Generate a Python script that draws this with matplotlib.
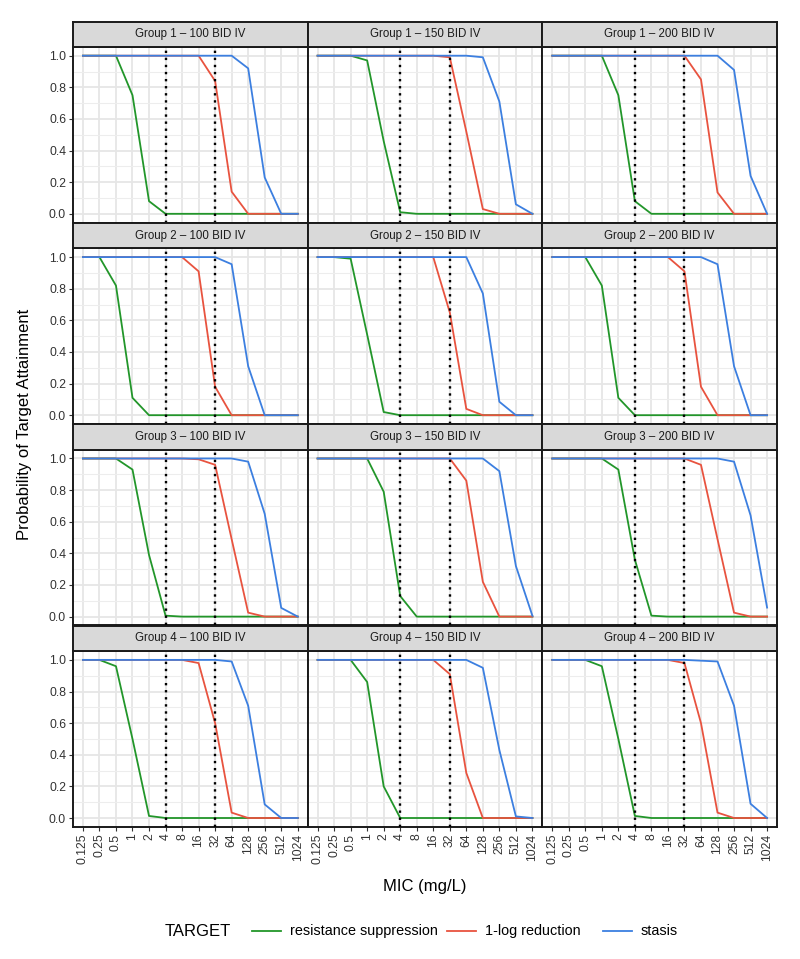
import matplotlib
matplotlib.use("Agg")
import matplotlib.pyplot as plt
from matplotlib.lines import Line2D
import numpy as np

plt.rcParams['font.family'] = ['Liberation Sans', 'DejaVu Sans']

mic_labels = ["0.125", "0.25", "0.5", "1", "2", "4", "8", "16", "32", "64",
              "128", "256", "512", "1024"]
groups = ["Group 1", "Group 2", "Group 3", "Group 4"]
doses = ["100 BID IV", "150 BID IV", "200 BID IV"]
targets = ["resistance suppression", "1-log reduction", "stasis"]
target_colors = ["#22962A", "#E8533F", "#3C7FE0"]
breakpoints = ["4", "32"]

# resistance suppression
g1_100_rs = [1, 1, 1, 0.75, 0.08, 0, 0, 0, 0, 0, 0, 0, 0, 0]
g1_150_rs = [1, 1, 1, 0.97, 0.46, 0.01, 0, 0, 0, 0, 0, 0, 0, 0]
g1_200_rs = [1, 1, 1, 1, 0.75, 0.08, 0, 0, 0, 0, 0, 0, 0, 0]
g2_100_rs = [1, 1, 0.82, 0.11, 0, 0, 0, 0, 0, 0, 0, 0, 0, 0]
g2_150_rs = [1, 1, 0.99, 0.51, 0.02, 0, 0, 0, 0, 0, 0, 0, 0, 0]
g2_200_rs = [1, 1, 1, 0.82, 0.11, 0, 0, 0, 0, 0, 0, 0, 0, 0]
g3_100_rs = [1, 1, 1, 0.93, 0.39, 0.006, 0, 0, 0, 0, 0, 0, 0, 0]
g3_150_rs = [1, 1, 1, 1, 0.79, 0.13, 0, 0, 0, 0, 0, 0, 0, 0]
g3_200_rs = [1, 1, 1, 1, 0.93, 0.36, 0.006, 0, 0, 0, 0, 0, 0, 0]
g4_100_rs = [1, 1, 0.96, 0.50, 0.013, 0, 0, 0, 0, 0, 0, 0, 0, 0]
g4_150_rs = [1, 1, 1, 0.86, 0.20, 0, 0, 0, 0, 0, 0, 0, 0, 0]
g4_200_rs = [1, 1, 1, 0.96, 0.50, 0.013, 0, 0, 0, 0, 0, 0, 0, 0]

# 1-log reduction
g1_100_lr = [1, 1, 1, 1, 1, 1, 1, 1, 0.84, 0.14, 0, 0, 0, 0]
g1_150_lr = [1, 1, 1, 1, 1, 1, 1, 1, 0.99, 0.52, 0.03, 0, 0, 0]
g1_200_lr = [1, 1, 1, 1, 1, 1, 1, 1, 1, 0.85, 0.135, 0, 0, 0]
g2_100_lr = [1, 1, 1, 1, 1, 1, 1, 0.91, 0.18, 0, 0, 0, 0, 0]
g2_150_lr = [1, 1, 1, 1, 1, 1, 1, 1, 0.65, 0.04, 0, 0, 0, 0]
g2_200_lr = [1, 1, 1, 1, 1, 1, 1, 1, 0.91, 0.18, 0, 0, 0, 0]
g3_100_lr = [1, 1, 1, 1, 1, 1, 1, 0.995, 0.96, 0.49, 0.025, 0, 0, 0]
g3_150_lr = [1, 1, 1, 1, 1, 1, 1, 1, 1, 0.86, 0.22, 0, 0, 0]
g3_200_lr = [1, 1, 1, 1, 1, 1, 1, 1, 1, 0.96, 0.49, 0.025, 0, 0]
g4_100_lr = [1, 1, 1, 1, 1, 1, 1, 0.98, 0.60, 0.034, 0, 0, 0, 0]
g4_150_lr = [1, 1, 1, 1, 1, 1, 1, 1, 0.91, 0.285, 0, 0, 0, 0]
g4_200_lr = [1, 1, 1, 1, 1, 1, 1, 1, 0.98, 0.60, 0.034, 0, 0, 0]

# stasis
g1_100_st = [1, 1, 1, 1, 1, 1, 1, 1, 1, 1, 0.92, 0.23, 0, 0]
g1_150_st = [1, 1, 1, 1, 1, 1, 1, 1, 1, 1, 0.99, 0.71, 0.06, 0]
g1_200_st = [1, 1, 1, 1, 1, 1, 1, 1, 1, 1, 1, 0.91, 0.24, 0]
g2_100_st = [1, 1, 1, 1, 1, 1, 1, 1, 1, 0.955, 0.31, 0, 0, 0]
g2_150_st = [1, 1, 1, 1, 1, 1, 1, 1, 1, 1, 0.77, 0.085, 0, 0]
g2_200_st = [1, 1, 1, 1, 1, 1, 1, 1, 1, 1, 0.955, 0.31, 0, 0]
g3_100_st = [1, 1, 1, 1, 1, 1, 1, 1, 1, 1, 0.98, 0.65, 0.055, 0]
g3_150_st = [1, 1, 1, 1, 1, 1, 1, 1, 1, 1, 1, 0.92, 0.32, 0.005]
g3_200_st = [1, 1, 1, 1, 1, 1, 1, 1, 1, 1, 1, 0.98, 0.64, 0.057]
g4_100_st = [1, 1, 1, 1, 1, 1, 1, 1, 1, 0.99, 0.71, 0.086, 0, 0]
g4_150_st = [1, 1, 1, 1, 1, 1, 1, 1, 1, 1, 0.95, 0.43, 0.01, 0]
g4_200_st = [1, 1, 1, 1, 1, 1, 1, 1, 1, 0.995, 0.99, 0.71, 0.09, 0]

panel_data = [
    [(g1_100_rs, g1_100_lr, g1_100_st), (g1_150_rs, g1_150_lr, g1_150_st), (g1_200_rs, g1_200_lr, g1_200_st)],
    [(g2_100_rs, g2_100_lr, g2_100_st), (g2_150_rs, g2_150_lr, g2_150_st), (g2_200_rs, g2_200_lr, g2_200_st)],
    [(g3_100_rs, g3_100_lr, g3_100_st), (g3_150_rs, g3_150_lr, g3_150_st), (g3_200_rs, g3_200_lr, g3_200_st)],
    [(g4_100_rs, g4_100_lr, g4_100_st), (g4_150_rs, g4_150_lr, g4_150_st), (g4_200_rs, g4_200_lr, g4_200_st)],
]

W, H = 800, 959
fig = plt.figure(figsize=(W / 100, H / 100), dpi=100)


def rect(x0, y0, w, h):
    return [x0 / W, 1 - (y0 + h) / H, w / W, h / H]


left, right = 73, 777
col_w = (right - left) / 3
panel_top0 = 47
row_period = 201.4
panel_h = 175.5
strip_h = 25.5

x = np.arange(len(mic_labels))
bp_idx = [mic_labels.index(b) for b in breakpoints]

for r in range(4):
    for c in range(3):
        x0 = left + c * col_w
        ptop = panel_top0 + r * row_period
        ax = fig.add_axes(rect(x0, ptop, col_w, panel_h))
        sax = fig.add_axes(rect(x0, ptop - strip_h, col_w, strip_h))
        sax.set_facecolor("#D9D9D9")
        sax.set_xticks([]); sax.set_yticks([])
        for s in sax.spines.values():
            s.set_color("#1A1A1A"); s.set_linewidth(1.4)
        sax.text(0.5, 0.5, f"{groups[r]} \u2013 {doses[c]}", ha="center", va="center",
                 fontsize=8.3, color="#1A1A1A", transform=sax.transAxes)

        ax.set_xlim(-0.6, len(mic_labels) - 1 + 0.6)
        ax.set_ylim(-0.055, 1.055)
        ax.set_xticks(x)
        ax.set_yticks([0, 0.2, 0.4, 0.6, 0.8, 1.0])
        ax.set_yticks([0.1, 0.3, 0.5, 0.7, 0.9], minor=True)
        ax.grid(True, which="major", color="#E6E6E6", linewidth=1.3, zorder=0)
        ax.grid(True, which="minor", axis="y", color="#EDEDED", linewidth=0.8, zorder=0)
        ax.set_axisbelow(True)
        ax.tick_params(axis="both", which="major", length=3, width=0.8, color="#333333",
                       labelsize=8.8, labelcolor="#333333", pad=2)
        ax.tick_params(axis="both", which="minor", length=0)
        for s in ax.spines.values():
            s.set_color("#1A1A1A"); s.set_linewidth(1.4)
        if c == 0:
            ax.set_yticklabels(["0.0", "0.2", "0.4", "0.6", "0.8", "1.0"])
        else:
            ax.tick_params(axis="y", which="major", labelleft=False, length=0)
        if r == 3:
            ax.set_xticklabels(mic_labels, rotation=90)
        else:
            ax.tick_params(axis="x", which="major", labelbottom=False, length=0)

        for vals, col in zip(panel_data[r][c], target_colors):
            ax.plot(x, vals, color=col, linewidth=1.3, zorder=3, solid_joinstyle="round")
        for bi in bp_idx:
            ax.axvline(bi, color="black", linestyle=(0, (1, 2.0)), linewidth=1.7, zorder=4)

fig.text(25 / W, 1 - 424 / H, "Probability of Target Attainment", rotation=90,
         ha="center", va="center", fontsize=12, color="black")
fig.text(425 / W, 1 - 886 / H, "MIC (mg/L)", ha="center", va="center",
         fontsize=12, color="black")

# legend
ly = 1 - 931 / H
fig.text(165 / W, ly, "TARGET", ha="left", va="center", fontsize=12)
key_x = [252, 447, 603]
for kx, lab, col in zip(key_x, targets, target_colors):
    fig.add_artist(Line2D([kx / W, (kx + 29) / W], [ly, ly], color=col, linewidth=1.3,
                          transform=fig.transFigure))
    fig.text((kx + 38) / W, ly, lab, ha="left", va="center", fontsize=10.4)

fig.savefig("out.png", dpi=100)
